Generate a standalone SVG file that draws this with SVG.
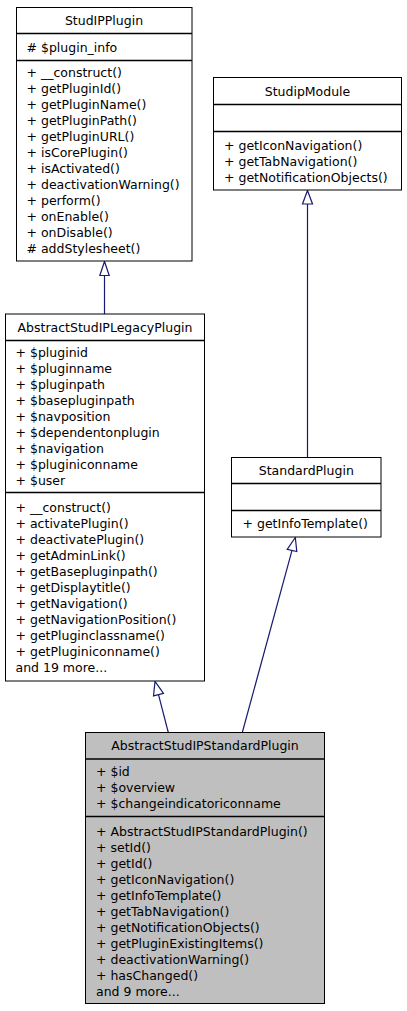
<svg xmlns="http://www.w3.org/2000/svg" width="407" height="1011" viewBox="0 0 407 1011">
<style>
text{font-family:"DejaVu Sans","Liberation Sans",sans-serif;font-size:12.5px;fill:#000}
.t{text-anchor:middle}
.box{fill:#fff;stroke:#000;stroke-width:1}
.hl{fill:#bfbfbf;stroke:#000;stroke-width:1}
.sep{stroke:#000;stroke-width:1.4}
.edge{stroke:#191970;stroke-width:1.2;fill:none}
.head{stroke:#191970;stroke-width:1.2;fill:#fff}
</style>
<rect width="407" height="1011" fill="#fff"/>
<g id="connectors">
<line class="edge" x1="104.5" y1="314" x2="104.5" y2="275.5"/>
<polygon class="head" points="104.5,261.5 99.8,275.5 109.2,275.5"/>
<line class="edge" x1="307.5" y1="457.5" x2="307.5" y2="204"/>
<polygon class="head" points="307.5,190.5 302.5,204 312.5,204"/>
<line class="edge" x1="168.3" y1="732.5" x2="158.5" y2="694.6"/>
<polygon class="head" points="155,681.5 153.5,695.9 163.5,693.3"/>
<line class="edge" x1="242.3" y1="732.5" x2="292" y2="550.3"/>
<polygon class="head" points="295.3,537.5 287.2,549.3 296.8,551.5"/>
</g>
<g id="StudIPPlugin">
<rect class="box" x="16.5" y="7.5" width="175.5" height="253.5"/>
<line class="sep" x1="16.5" y1="33.5" x2="192" y2="33.5"/>
<line class="sep" x1="16.5" y1="60.5" x2="192" y2="60.5"/>
<text class="t" x="104" y="24.5">StudIPPlugin</text>
<text x="26.5" y="51.5"># $plugin_info</text>
<text x="26.5" y="76.5">+ __construct()</text>
<text x="26.5" y="92.5">+ getPluginId()</text>
<text x="26.5" y="108.5">+ getPluginName()</text>
<text x="26.5" y="124.5">+ getPluginPath()</text>
<text x="26.5" y="140.5">+ getPluginURL()</text>
<text x="26.5" y="156.5">+ isCorePlugin()</text>
<text x="26.5" y="172.5">+ isActivated()</text>
<text x="26.5" y="188.5">+ deactivationWarning()</text>
<text x="26.5" y="204.5">+ perform()</text>
<text x="26.5" y="220.5">+ onEnable()</text>
<text x="26.5" y="236.5">+ onDisable()</text>
<text x="26.5" y="252.5"># addStylesheet()</text>
</g>
<g id="StudipModule">
<rect class="box" x="213.5" y="77.5" width="188" height="112.5"/>
<line class="sep" x1="213.5" y1="104.5" x2="401.5" y2="104.5"/>
<line class="sep" x1="213.5" y1="131.5" x2="401.5" y2="131.5"/>
<text class="t" x="307.5" y="96">StudipModule</text>
<text x="224" y="149.5">+ getIconNavigation()</text>
<text x="224" y="165.5">+ getTabNavigation()</text>
<text x="224" y="181.5">+ getNotificationObjects()</text>
</g>
<g id="AbstractStudIPLegacyPlugin">
<rect class="box" x="5.5" y="314" width="199" height="367"/>
<line class="sep" x1="5.5" y1="340.5" x2="204.5" y2="340.5"/>
<line class="sep" x1="5.5" y1="492.5" x2="204.5" y2="492.5"/>
<text class="t" x="105" y="331.5">AbstractStudIPLegacyPlugin</text>
<text x="15.5" y="356.5">+ $pluginid</text>
<text x="15.5" y="372.5">+ $pluginname</text>
<text x="15.5" y="388.5">+ $pluginpath</text>
<text x="15.5" y="404.5">+ $basepluginpath</text>
<text x="15.5" y="420.5">+ $navposition</text>
<text x="15.5" y="436.5">+ $dependentonplugin</text>
<text x="15.5" y="452.5">+ $navigation</text>
<text x="15.5" y="468.5">+ $pluginiconname</text>
<text x="15.5" y="484.5">+ $user</text>
<text x="15.5" y="511.5">+ __construct()</text>
<text x="15.5" y="527.5">+ activatePlugin()</text>
<text x="15.5" y="543.5">+ deactivatePlugin()</text>
<text x="15.5" y="559.5">+ getAdminLink()</text>
<text x="15.5" y="575.5">+ getBasepluginpath()</text>
<text x="15.5" y="591.5">+ getDisplaytitle()</text>
<text x="15.5" y="607.5">+ getNavigation()</text>
<text x="15.5" y="623.5">+ getNavigationPosition()</text>
<text x="15.5" y="639.5">+ getPluginclassname()</text>
<text x="15.5" y="655.5">+ getPluginiconname()</text>
<text x="15.5" y="671.5">and 19 more...</text>
</g>
<g id="StandardPlugin">
<rect class="box" x="231.5" y="457.5" width="149.5" height="79.5"/>
<line class="sep" x1="231.5" y1="483.5" x2="381" y2="483.5"/>
<line class="sep" x1="231.5" y1="510.5" x2="381" y2="510.5"/>
<text class="t" x="306.3" y="475">StandardPlugin</text>
<text x="242.5" y="527.5">+ getInfoTemplate()</text>
</g>
<g id="AbstractStudIPStandardPlugin">
<rect class="hl" x="85.5" y="732.5" width="239" height="271"/>
<line class="sep" x1="85.5" y1="759" x2="324.5" y2="759"/>
<line class="sep" x1="85.5" y1="816.5" x2="324.5" y2="816.5"/>
<text class="t" x="205" y="750">AbstractStudIPStandardPlugin</text>
<text x="96" y="775.5">+ $id</text>
<text x="96" y="791.5">+ $overview</text>
<text x="96" y="807.5">+ $changeindicatoriconname</text>
<text x="96" y="835.5">+ AbstractStudIPStandardPlugin()</text>
<text x="96" y="851.5">+ setId()</text>
<text x="96" y="867.5">+ getId()</text>
<text x="96" y="883.5">+ getIconNavigation()</text>
<text x="96" y="899.5">+ getInfoTemplate()</text>
<text x="96" y="915.5">+ getTabNavigation()</text>
<text x="96" y="931.5">+ getNotificationObjects()</text>
<text x="96" y="947.5">+ getPluginExistingItems()</text>
<text x="96" y="963.5">+ deactivationWarning()</text>
<text x="96" y="979.5">+ hasChanged()</text>
<text x="96" y="995.5">and 9 more...</text>
</g>
</svg>
